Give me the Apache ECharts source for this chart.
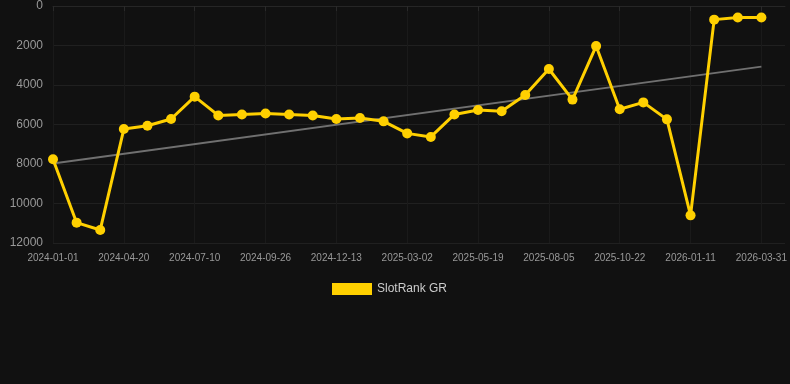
<!DOCTYPE html>
<html>
<head>
<meta charset="utf-8">
<script src="https://cdn.jsdelivr.net/npm/echarts@6/dist/echarts.min.js"></script>
<style>
  html, body { margin: 0; padding: 0; background: #111111; }
  #chart { width: 790px; height: 384px; }
</style>
</head>
<body>
<div id="chart"></div>
<script>
// dates of each rank sample (every third one is labelled on the axis)
const dates = [
  "2024-01-01", "2024-02-07", "2024-03-15", "2024-04-20", "2024-05-17", "2024-06-13",
  "2024-07-10", "2024-08-05", "2024-08-31", "2024-09-26", "2024-10-22", "2024-11-17",
  "2024-12-13", "2025-01-08", "2025-02-03", "2025-03-02", "2025-03-28", "2025-04-23",
  "2025-05-19", "2025-06-14", "2025-07-10", "2025-08-05", "2025-08-31", "2025-09-26",
  "2025-10-22", "2025-11-18", "2025-12-15", "2026-01-11", "2026-02-06", "2026-03-04",
  "2026-03-31"
];

const rankGR = [
  7760, 10970, 11340, 6230, 6060, 5720, 4590, 5540, 5490, 5440, 5490, 5540,
  5720, 5670, 5840, 6450, 6630, 5490, 5270, 5330, 4510, 3190, 4740, 2030,
  5230, 4880, 5740, 10600, 690, 580, 580
];

// trend line end points [category index, rank]
const trend = [[0, 7970], [30, 3070]];

const TEXT = "#999999";
const SPLIT = "#202020";
const GOLD = "#ffd000";
const FONT = "Liberation Sans, Arial, sans-serif";

const chart = echarts.init(document.getElementById("chart"));
chart.setOption({
  backgroundColor: "#111111",
  animation: false,
  grid: { left: 53, right: 5, top: 6, bottom: 141 },
  legend: {
    data: [{ name: "SlotRank GR", icon: "rect" }],
    top: 278,
    left: 327,
    itemWidth: 40,
    itemHeight: 12,
    textStyle: { color: "#cccccc", fontSize: 12, fontFamily: FONT },
  },
  xAxis: {
    type: "category",
    data: dates,
    max: dates.length, // leave one empty slot after the last sample
    boundaryGap: false,
    axisLine: { lineStyle: { color: "#262626" } },
    axisTick: { show: true, interval: 2, lineStyle: { color: "#2a2a2a" } },
    axisLabel: { color: TEXT, fontSize: 10, interval: 2, margin: 10, fontFamily: FONT },
    splitLine: { show: true, interval: 2, lineStyle: { color: "#1a1a1a" } },
  },
  yAxis: {
    type: "value",
    inverse: true,
    min: 0,
    max: 12000,
    interval: 2000,
    axisLine: { show: false },
    axisTick: { show: false },
    axisLabel: { color: TEXT, fontSize: 12, margin: 10, fontFamily: FONT, formatter: (v) => String(v) },
    splitLine: { lineStyle: { color: SPLIT } },
  },
  series: [
    {
      name: "SlotRank GR",
      type: "line",
      data: rankGR,
      symbol: "circle",
      symbolSize: 10,
      z: 3,
      itemStyle: { color: GOLD },
      lineStyle: { width: 3, color: GOLD },
    },
    {
      name: "trend",
      type: "line",
      data: trend,
      symbol: "none",
      z: 2,
      lineStyle: { width: 2, color: "#707070" },
    },
  ],
});
</script>
</body>
</html>
